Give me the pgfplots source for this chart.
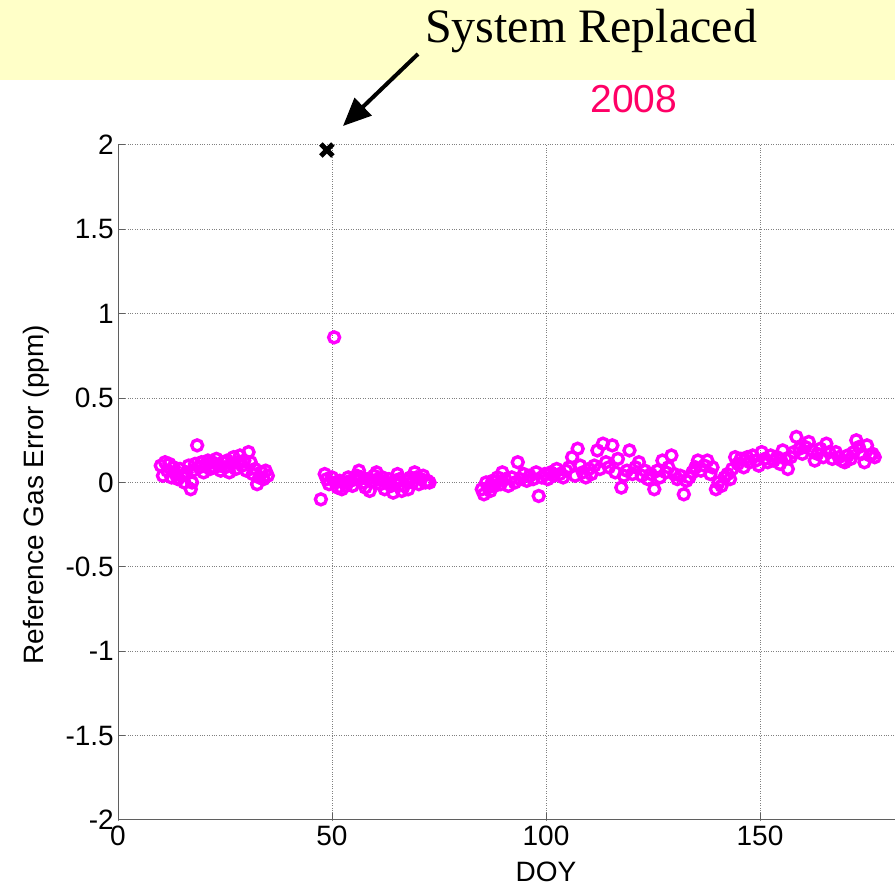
\documentclass[border=0pt]{standalone}
\usepackage{pgfplots}
\pgfplotsset{compat=1.18}
\usepackage{fontspec}
\setmainfont{Liberation Sans}
\newfontfamily\timesfont{Liberation Serif}
\usetikzlibrary{arrows.meta}
\definecolor{banner}{RGB}{255,255,200}
\definecolor{mag}{RGB}{255,0,255}
\definecolor{yr}{RGB}{255,0,102}
\definecolor{axgray}{RGB}{95,95,95}

\pgfplotstableread{
x y
10.0 0.10
10.5 0.04
11.0 0.12
11.5 0.07
12.0 0.11
12.5 0.03
13.0 0.09
13.5 0.05
14.0 0.02
14.5 0.08
15.0 0.04
15.5 0.00
16.0 0.06
16.5 0.10
17.0 -0.04
17.3 0.00
17.5 0.07
18.0 0.11
18.5 0.22
19.0 0.09
19.5 0.12
20.0 0.06
20.5 0.10
21.0 0.13
21.5 0.08
22.0 0.12
22.5 0.09
23.0 0.14
23.5 0.10
24.0 0.07
24.5 0.12
25.0 0.09
25.5 0.13
26.0 0.06
26.5 0.11
27.0 0.15
27.5 0.08
28.0 0.12
28.5 0.16
29.0 0.10
29.5 0.13
30.0 0.07
30.5 0.18
31.0 0.12
31.5 0.05
32.0 0.08
32.5 -0.01
33.0 0.03
33.5 0.06
34.0 0.02
34.5 0.07
35.0 0.04
}\segA

\pgfplotstableread{
x y
47.4 -0.10
48.3 0.05
48.8 0.02
49.3 -0.01
50.0 0.03
50.5 0.86
50.8 0.00
51.3 -0.03
51.8 0.01
52.3 -0.04
52.8 0.00
53.3 -0.02
53.8 0.03
54.3 0.01
54.8 -0.02
55.3 0.02
55.8 0.04
56.3 0.07
56.8 0.03
57.3 0.00
57.8 -0.03
58.3 0.02
58.8 -0.05
59.3 0.01
59.8 0.04
60.4 0.06
60.8 0.02
61.3 -0.01
61.8 0.03
62.3 -0.04
62.8 0.00
63.3 0.02
63.8 -0.02
64.3 -0.06
64.8 0.01
65.3 0.05
65.8 0.02
66.3 -0.05
66.8 -0.02
67.3 0.01
67.8 -0.04
68.3 0.03
68.8 0.00
69.3 0.06
69.8 0.03
70.3 -0.01
70.8 0.02
71.3 0.04
71.8 0.00
72.3 0.01
72.8 0.00
}\segB

\pgfplotstableread{
x y
85.0 -0.04
85.5 -0.07
86.0 0.00
86.5 -0.03
87.0 -0.05
87.5 0.01
88.0 -0.02
88.7 0.03
89.4 -0.01
89.8 0.06
90.5 0.02
91.2 -0.02
92.0 0.03
92.7 0.00
93.4 0.12
94.0 0.02
94.8 0.05
95.5 0.01
96.2 0.04
97.0 0.02
97.7 0.06
98.3 -0.08
99.0 0.03
99.7 0.05
100.4 0.02
101.1 0.06
101.8 0.04
102.5 0.08
103.2 0.05
104.0 0.03
104.7 0.07
105.4 0.09
106.1 0.15
106.8 0.04
107.4 0.20
108.0 0.10
108.6 0.06
109.3 0.03
110.0 0.08
110.6 0.05
111.3 0.10
112.0 0.19
112.6 0.08
113.3 0.23
114.0 0.12
114.7 0.09
115.5 0.22
116.2 0.06
116.8 0.14
117.6 -0.03
118.2 0.04
118.9 0.07
119.5 0.19
120.2 0.05
120.9 0.09
121.7 0.12
122.4 0.04
123.1 0.07
123.8 0.02
124.5 0.05
125.3 -0.04
126.0 0.07
126.6 0.03
127.2 0.13
128.0 0.06
128.6 0.09
129.3 0.16
130.0 0.05
130.7 0.02
131.4 0.04
132.2 -0.07
132.8 0.01
133.5 0.03
134.2 0.06
134.9 0.09
135.5 0.13
136.2 0.07
137.0 0.10
137.7 0.13
138.4 0.05
138.9 0.09
139.7 -0.04
140.3 0.00
141.0 -0.02
141.7 0.03
142.4 0.05
143.0 0.02
143.5 0.08
144.2 0.15
144.8 0.11
145.5 0.14
146.2 0.09
147.0 0.15
147.6 0.12
148.3 0.16
149.0 0.13
149.7 0.10
150.4 0.18
151.1 0.14
151.8 0.12
152.5 0.16
153.2 0.13
154.0 0.15
154.7 0.11
155.3 0.19
156.0 0.14
156.5 0.08
157.2 0.15
157.9 0.18
158.5 0.27
159.2 0.20
159.9 0.17
160.6 0.21
161.4 0.24
162.1 0.19
162.8 0.13
163.4 0.17
164.1 0.20
164.8 0.15
165.5 0.23
166.2 0.18
166.9 0.14
167.7 0.18
168.4 0.15
169.1 0.13
169.8 0.12
170.5 0.16
171.2 0.14
171.9 0.18
172.5 0.25
173.1 0.21
173.8 0.17
174.4 0.12
175.0 0.22
175.7 0.16
176.3 0.17
176.8 0.15
}\segC

\begin{document}
\begin{tikzpicture}[x=1pt,y=1pt]
\fill[banner] (0,810) rectangle (895,890);
\begin{axis}[
  at={(118pt,70pt)}, anchor=south west,
  scale only axis, width=856pt, height=675pt,
  xmin=0, xmax=200, ymin=-2, ymax=2,
  axis lines=left,
  axis line style={-, axgray, line width=1pt},
  xtick={0,50,100,150},
  xticklabels={0,50,100,150},
  extra x ticks={200},
  extra x tick labels={},
  ytick={-2,-1.5,-1,-0.5,0,0.5,1,1.5,2},
  yticklabels={-2,-1.5,-1,-0.5,0,0.5,1,1.5,2},
  tick align=inside,
  major tick length=7pt,
  tick style={axgray, line width=1pt},
  grid=major,
  major grid style={dotted, gray, line width=1pt},
  tick label style={font=\fontsize{28}{30}\selectfont, inner sep=2pt},
  yticklabel style={xshift=-2pt},
  xticklabel style={yshift=-4pt},
  xlabel={DOY},
  ylabel={Reference Gas Error (ppm)},
  label style={font=\fontsize{28}{30}\selectfont},
  xlabel style={at={(axis description cs:0.5,0)}, anchor=north, inner sep=0pt, yshift=-42pt},
  ylabel style={at={(axis description cs:-0.0958,0.482)}, anchor=center, inner sep=0pt},
  clip=false,
]
\addplot[only marks, mark=o, mark size=5.5pt, mag, mark options={line width=3.4pt}] table {\segA};
\addplot[only marks, mark=o, mark size=5.5pt, mag, mark options={line width=3.4pt}] table {\segB};
\addplot[only marks, mark=o, mark size=5.5pt, mag, mark options={line width=3.4pt}] table {\segC};
\addplot[only marks, mark=x, mark size=8.5pt, black, mark options={line width=5pt}] coordinates {(48.8,1.97)};
\end{axis}
\node[anchor=base west, inner sep=0pt, font=\timesfont\fontsize{48}{50}\selectfont] at (425,847) {System Replaced};
\draw[line width=4pt, -{Triangle[length=28pt,width=24pt]}] (418,836) -- (343,764);
\node[inner sep=0pt, text=yr, font=\fontsize{39}{40}\selectfont] at (634,791) {2008};
\pgfresetboundingbox
\useasboundingbox (0,0) rectangle (895,890);
\end{tikzpicture}
\end{document}
